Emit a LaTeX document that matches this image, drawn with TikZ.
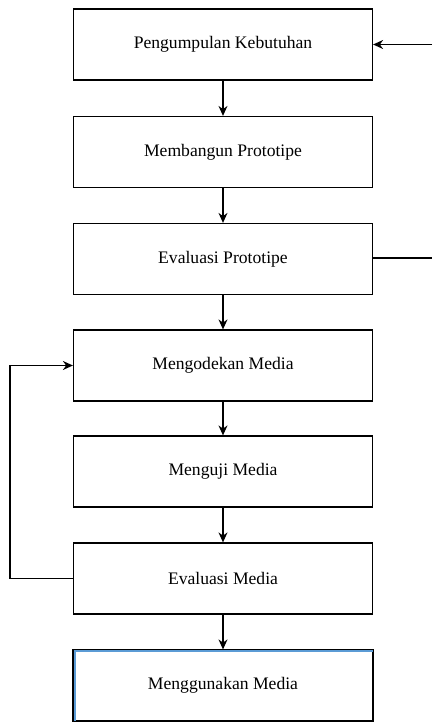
\documentclass[tikz,border=0pt]{standalone}
\usepackage{fontspec}
\setmainfont{Liberation Serif}
\usetikzlibrary{arrows.meta}
\definecolor{selblue}{RGB}{91,155,213}
\begin{document}
\begin{tikzpicture}[x=1pt,y=1pt,
  stepbox/.style={draw=black, line width=1.2pt, fill=white, minimum width=299pt, minimum height=71pt, inner sep=0pt, font=\fontsize{17.6}{19}\selectfont},
  conn/.style={line width=1.2pt, -{Stealth[length=10pt,width=9pt]}},
  plain/.style={line width=1.2pt}]
\useasboundingbox (0,0) rectangle (432,-723);
\node[stepbox] (b1) at (223,-44.5) {Pengumpulan Kebutuhan};
\node[stepbox] (b2) at (223,-152) {Membangun Prototipe};
\node[stepbox] (b3) at (223,-259) {Evaluasi Prototipe};
\node[stepbox] (b4) at (223,-365.5) {Mengodekan Media};
\node[stepbox] (b5) at (223,-471.5) {Menguji Media};
\node[stepbox] (b6) at (223,-578.5) {Evaluasi Media};
\node[stepbox] (b7) at (223,-685.5) {Menggunakan Media};
\draw[selblue, line width=2.6pt] ([xshift=1.6pt]b7.south west) -- ([xshift=1.6pt,yshift=-1.6pt]b7.north west) -- ([yshift=-1.6pt]b7.north east);
\draw[line width=1.2pt] (b7.south west) rectangle (b7.north east);
\draw[conn] (b1) -- (b2);
\draw[conn] (b2) -- (b3);
\draw[conn] (b3) -- (b4);
\draw[conn] (b4) -- (b5);
\draw[conn] (b5) -- (b6);
\draw[conn] (b6) -- (b7);
\coordinate (rin) at (432,-44.5);
\coordinate (rout) at (432,-258);
\draw[conn] (rin) -- (b1.east);
\draw[plain] (b3.east |- rout) -- (rout);
\coordinate (lx) at (10,0);
\draw[conn] (b6.west) -- (lx |- b6.west) -- (lx |- b4.west) -- (b4.west);
\end{tikzpicture}
\end{document}
